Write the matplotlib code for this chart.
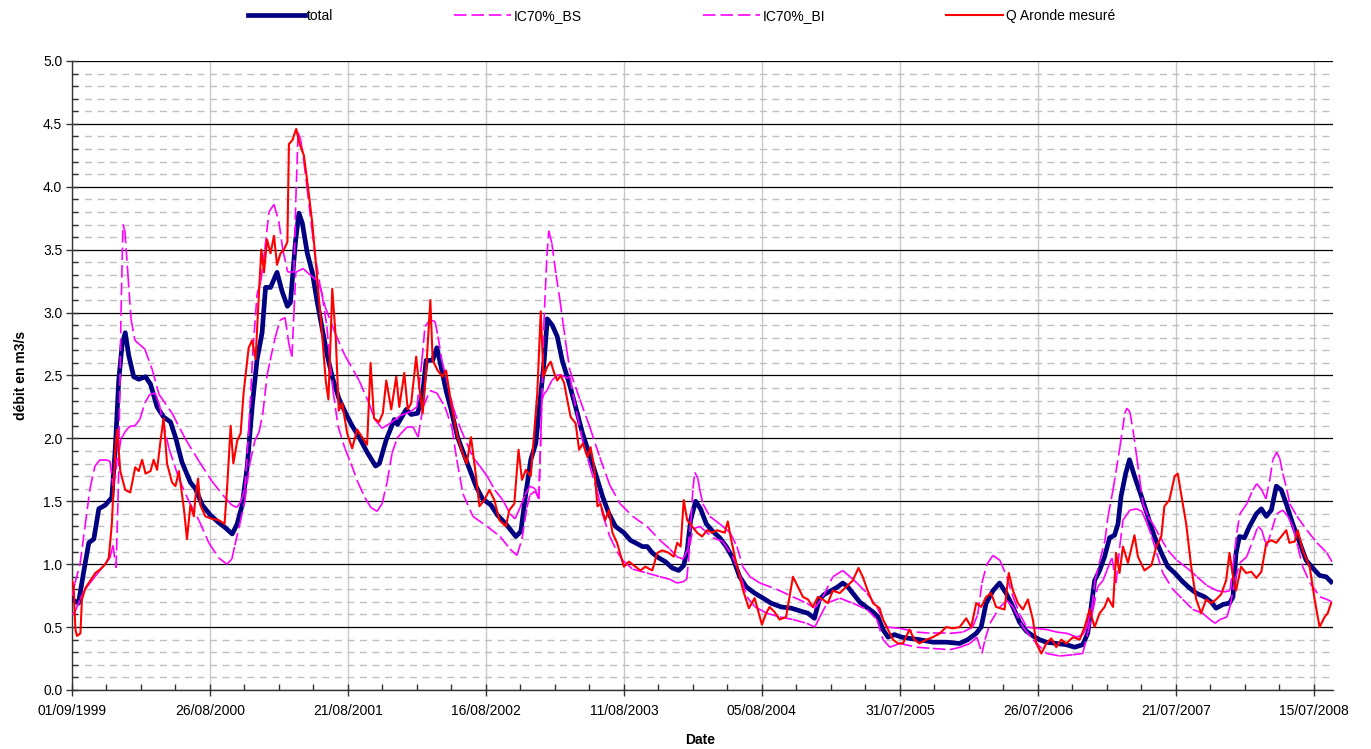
import numpy as np
import matplotlib
matplotlib.use('Agg')
import matplotlib.pyplot as plt
import matplotlib.dates as mdates
from matplotlib.collections import LineCollection
from matplotlib.lines import Line2D
from matplotlib.ticker import MultipleLocator, FixedLocator, FormatStrFormatter

plt.rcParams['font.family'] = ['Liberation Sans', 'DejaVu Sans']
plt.rcParams['lines.scale_dashes'] = False

start = np.datetime64('1999-09-01')

# jours depuis le 01/09/1999 -> debit (m3/s)
total_days = [0, 17, 30, 44, 57, 70, 87, 104, 113, 122,
              131, 139, 148, 161, 174, 192, 205, 222, 239, 257,
              270, 287, 309, 322, 340, 361, 383, 400, 418, 431,
              444, 457, 470, 483, 496, 505, 518, 535, 548, 562,
              570, 583, 592, 601, 614, 627, 640, 653, 666, 679,
              696, 714, 731, 749, 770, 792, 802, 820, 841, 849,
              872, 885, 902, 915, 924, 941, 952, 963, 976, 989,
              1006, 1028, 1054, 1071, 1093, 1110, 1132, 1158, 1171, 1184,
              1197, 1210, 1219, 1232, 1240, 1253, 1266, 1279, 1297, 1314,
              1332, 1349, 1366, 1384, 1401, 1418, 1440, 1457, 1470, 1488,
              1501, 1514, 1531, 1548, 1566, 1583, 1596, 1605, 1614, 1627,
              1640, 1655, 1672, 1690, 1707, 1724, 1742, 1759, 1781, 1803,
              1824, 1850, 1877, 1898, 1920, 1937, 1950, 1963, 1981, 1998,
              2011, 2024, 2037, 2055, 2072, 2090, 2103, 2116, 2129, 2146,
              2164, 2185, 2211, 2246, 2281, 2316, 2337, 2359, 2372, 2385,
              2403, 2420, 2437, 2455, 2472, 2489, 2507, 2524, 2542, 2568,
              2594, 2616, 2637, 2650, 2659, 2668, 2681, 2694, 2707, 2720,
              2729, 2737, 2749, 2759, 2772, 2790, 2807, 2824, 2842, 2859,
              2877, 2898, 2916, 2933, 2955, 2972, 2985, 3003, 3020, 3029,
              3037, 3046, 3059, 3072, 3090, 3103, 3116, 3129, 3142, 3155,
              3168, 3185, 3203, 3220, 3237, 3255, 3272, 3285]
total_q = [0.72, 0.69, 0.93, 1.17, 1.20, 1.44, 1.47, 1.53, 1.92, 2.46,
           2.75, 2.84, 2.66, 2.49, 2.47, 2.49, 2.43, 2.25, 2.17, 2.13,
           2.01, 1.81, 1.65, 1.60, 1.47, 1.39, 1.33, 1.29, 1.24, 1.32,
           1.47, 1.77, 2.25, 2.63, 2.84, 3.20, 3.20, 3.32, 3.17, 3.05,
           3.08, 3.56, 3.79, 3.71, 3.47, 3.32, 3.08, 2.87, 2.66, 2.49,
           2.32, 2.20, 2.10, 2.01, 1.89, 1.78, 1.80, 1.99, 2.15, 2.11,
           2.23, 2.19, 2.20, 2.36, 2.62, 2.62, 2.72, 2.57, 2.38, 2.23,
           2.01, 1.83, 1.62, 1.52, 1.47, 1.39, 1.32, 1.22, 1.26, 1.56,
           1.83, 1.96, 2.23, 2.62, 2.95, 2.90, 2.81, 2.62, 2.44, 2.25,
           2.04, 1.88, 1.72, 1.54, 1.40, 1.30, 1.25, 1.19, 1.17, 1.14,
           1.14, 1.09, 1.05, 1.02, 0.97, 0.95, 0.99, 1.11, 1.35, 1.50,
           1.44, 1.32, 1.26, 1.21, 1.14, 1.05, 0.90, 0.82, 0.77, 0.73,
           0.69, 0.66, 0.65, 0.63, 0.61, 0.57, 0.72, 0.76, 0.79, 0.82,
           0.85, 0.82, 0.77, 0.70, 0.66, 0.62, 0.58, 0.48, 0.42, 0.44,
           0.42, 0.41, 0.40, 0.38, 0.38, 0.37, 0.40, 0.45, 0.50, 0.69,
           0.79, 0.85, 0.77, 0.66, 0.54, 0.47, 0.43, 0.40, 0.38, 0.37,
           0.36, 0.34, 0.36, 0.45, 0.66, 0.87, 0.95, 1.06, 1.21, 1.23,
           1.32, 1.54, 1.72, 1.83, 1.70, 1.54, 1.38, 1.22, 1.09, 0.98,
           0.93, 0.86, 0.81, 0.77, 0.74, 0.70, 0.65, 0.68, 0.69, 0.74,
           1.09, 1.22, 1.21, 1.30, 1.40, 1.44, 1.38, 1.43, 1.62, 1.59,
           1.48, 1.32, 1.17, 1.03, 0.97, 0.91, 0.90, 0.86]

bs_days = [0, 8, 21, 34, 47, 60, 73, 86, 99, 107,
           115, 123, 128, 133, 138, 146, 154, 164, 175, 190,
           209, 227, 261, 295, 331, 365, 399, 417, 430, 441,
           451, 462, 472, 483, 493, 503, 514, 527, 540, 550,
           563, 579, 584, 590, 597, 605, 613, 626, 637, 647,
           660, 686, 712, 749, 775, 790, 809, 830, 856, 882,
           900, 913, 921, 934, 947, 955, 965, 978, 994, 1012,
           1030, 1046, 1064, 1083, 1103, 1124, 1143, 1156, 1169, 1182,
           1195, 1208, 1218, 1226, 1231, 1239, 1244, 1252, 1263, 1273,
           1281, 1291, 1299, 1325, 1351, 1377, 1403, 1430, 1463, 1500,
           1534, 1560, 1578, 1594, 1607, 1615, 1620, 1625, 1633, 1638,
           1646, 1664, 1690, 1717, 1735, 1750, 1769, 1795, 1839, 1881,
           1917, 1938, 1959, 1985, 2011, 2030, 2048, 2074, 2100, 2126,
           2160, 2204, 2246, 2290, 2324, 2350, 2363, 2374, 2387, 2403,
           2421, 2439, 2455, 2473, 2491, 2517, 2543, 2570, 2596, 2622,
           2637, 2648, 2661, 2669, 2682, 2695, 2703, 2716, 2734, 2747,
           2752, 2760, 2768, 2778, 2786, 2794, 2807, 2820, 2838, 2859,
           2883, 2909, 2935, 2961, 2987, 3008, 3021, 3029, 3039, 3047,
           3065, 3081, 3091, 3104, 3115, 3125, 3133, 3143, 3151, 3159,
           3170, 3177, 3196, 3222, 3248, 3274, 3287]
bs_q = [0.75, 0.85, 1.0, 1.3, 1.6, 1.78, 1.83, 1.83, 1.82, 1.62,
        1.75, 2.0, 3.0, 3.70, 3.65, 3.3, 2.95, 2.78, 2.75, 2.71,
        2.55, 2.35, 2.2, 2.0, 1.82, 1.66, 1.53, 1.47, 1.45, 1.5,
        1.6, 2.1, 2.7, 3.15, 3.25, 3.5, 3.8, 3.86, 3.72, 3.5,
        3.32, 3.32, 3.9, 4.43, 4.37, 4.2, 4.0, 3.66, 3.4, 3.22,
        3.05, 2.84, 2.66, 2.46, 2.28, 2.15, 2.08, 2.12, 2.18, 2.21,
        2.25, 2.62, 2.89, 2.94, 2.93, 2.81, 2.62, 2.46, 2.25, 2.09,
        1.96, 1.85, 1.78, 1.70, 1.59, 1.51, 1.40, 1.36, 1.45, 1.55,
        1.62, 1.60, 1.52, 2.3, 2.9, 3.45, 3.65, 3.55, 3.3, 3.1,
        2.92, 2.7, 2.54, 2.31, 2.09, 1.85, 1.63, 1.48, 1.38, 1.30,
        1.19, 1.12, 1.06, 1.04, 1.12, 1.35, 1.6, 1.73, 1.68, 1.59,
        1.48, 1.38, 1.32, 1.25, 1.14, 0.98, 0.90, 0.85, 0.80, 0.74,
        0.69, 0.65, 0.74, 0.90, 0.95, 0.90, 0.85, 0.77, 0.66, 0.50,
        0.49, 0.46, 0.45, 0.45, 0.46, 0.50, 0.60, 0.85, 1.00, 1.07,
        1.03, 0.90, 0.74, 0.60, 0.50, 0.49, 0.48, 0.46, 0.45, 0.42,
        0.44, 0.50, 0.66, 0.87, 1.03, 1.19, 1.38, 1.59, 1.93, 2.2,
        2.24, 2.21, 2.07, 1.85, 1.67, 1.48, 1.38, 1.32, 1.22, 1.11,
        1.03, 0.97, 0.90, 0.83, 0.79, 0.78, 0.79, 0.98, 1.25, 1.40,
        1.48, 1.59, 1.64, 1.59, 1.52, 1.67, 1.83, 1.89, 1.84, 1.72,
        1.59, 1.48, 1.38, 1.27, 1.17, 1.09, 1.02]

bi_days = [0, 8, 21, 34, 47, 60, 73, 86, 99, 107,
           115, 120, 123, 128, 133, 138, 146, 154, 164, 177,
           190, 203, 217, 227, 253, 279, 305, 331, 357, 383,
           404, 417, 425, 438, 451, 464, 477, 488, 498, 509,
           517, 530, 543, 556, 566, 574, 579, 584, 590, 603,
           621, 637, 647, 652, 665, 673, 681, 694, 712, 728,
           746, 764, 780, 796, 809, 822, 835, 848, 856, 874,
           890, 903, 916, 934, 952, 973, 991, 1004, 1020, 1046,
           1083, 1117, 1143, 1161, 1174, 1187, 1195, 1208, 1218, 1223,
           1226, 1231, 1239, 1252, 1265, 1278, 1291, 1299, 1317, 1333,
           1351, 1370, 1385, 1403, 1422, 1437, 1463, 1500, 1534, 1560,
           1578, 1594, 1604, 1612, 1620, 1638, 1672, 1698, 1724, 1748,
           1761, 1782, 1813, 1847, 1881, 1917, 1938, 1951, 1970, 2003,
           2037, 2074, 2100, 2116, 2134, 2160, 2204, 2246, 2290, 2317,
           2343, 2361, 2374, 2382, 2395, 2421, 2439, 2455, 2481, 2507,
           2543, 2577, 2611, 2637, 2650, 2664, 2676, 2690, 2700, 2713,
           2724, 2734, 2742, 2760, 2778, 2791, 2804, 2817, 2830, 2846,
           2872, 2898, 2924, 2950, 2969, 2982, 2995, 3013, 3021, 3034,
           3047, 3065, 3081, 3094, 3104, 3117, 3130, 3143, 3159, 3172,
           3185, 3198, 3211, 3230, 3256, 3274, 3287]
bi_q = [0.6, 0.62, 0.72, 0.8, 0.85, 0.9, 0.95, 1.0, 1.05, 1.15,
        0.97, 1.5, 1.9, 2.0, 2.02, 2.05, 2.08, 2.1, 2.1, 2.15,
        2.28, 2.35, 2.36, 2.28, 1.92, 1.68, 1.50, 1.35, 1.17, 1.05,
        1.00, 1.04, 1.15, 1.32, 1.50, 1.8, 1.98, 2.05, 2.2, 2.5,
        2.62, 2.8, 2.94, 2.96, 2.75, 2.65, 3.0, 3.32, 3.33, 3.35,
        3.3, 3.26, 3.2, 3.15, 2.89, 2.6, 2.38, 2.1, 1.92, 1.80,
        1.65, 1.53, 1.45, 1.42, 1.48, 1.65, 1.88, 2.0, 2.03, 2.09,
        2.09, 2.01, 2.25, 2.38, 2.36, 2.25, 2.09, 1.83, 1.56, 1.38,
        1.30, 1.22, 1.12, 1.07, 1.2, 1.45, 1.55, 1.58, 1.52, 2.0,
        2.3, 2.35, 2.38, 2.46, 2.50, 2.50, 2.48, 2.49, 2.2, 1.97,
        1.78, 1.58, 1.39, 1.22, 1.10, 1.03, 0.96, 0.93, 0.90, 0.88,
        0.85, 0.86, 0.88, 1.15, 1.28, 1.30, 1.21, 1.18, 1.06, 0.87,
        0.74, 0.66, 0.61, 0.58, 0.56, 0.53, 0.50, 0.58, 0.69, 0.73,
        0.69, 0.64, 0.56, 0.40, 0.34, 0.37, 0.34, 0.33, 0.32, 0.34,
        0.37, 0.42, 0.29, 0.40, 0.53, 0.66, 0.71, 0.66, 0.50, 0.40,
        0.29, 0.27, 0.28, 0.29, 0.45, 0.64, 0.82, 0.87, 0.95, 1.05,
        0.85, 1.15, 1.35, 1.43, 1.44, 1.42, 1.33, 1.22, 1.09, 0.93,
        0.80, 0.72, 0.64, 0.61, 0.56, 0.53, 0.56, 0.58, 0.66, 0.87,
        1.01, 1.06, 1.19, 1.30, 1.27, 1.14, 1.27, 1.40, 1.43, 1.38,
        1.30, 1.14, 0.98, 0.85, 0.74, 0.72, 0.70]

mes_days = [0, 4, 9, 13, 22, 26, 35, 48, 61, 74,
            87, 96, 104, 113, 118, 126, 139, 152, 165, 174,
            183, 192, 205, 213, 222, 231, 239, 248, 261, 270,
            279, 292, 300, 309, 318, 322, 329, 335, 348, 366,
            383, 398, 405, 414, 421, 431, 440, 448, 461, 470,
            479, 488, 494, 501, 509, 518, 527, 535, 544, 553,
            562, 566, 575, 585, 594, 605, 614, 627, 640, 653,
            662, 669, 675, 679, 688, 696, 705, 718, 731, 744,
            757, 770, 779, 788, 801, 811, 820, 833, 846, 854,
            867, 876, 885, 898, 906, 915, 924, 935, 941, 954,
            967, 976, 989, 1006, 1019, 1030, 1041, 1054, 1063, 1076,
            1089, 1102, 1115, 1132, 1141, 1154, 1165, 1174, 1184, 1197,
            1203, 1214, 1223, 1230, 1240, 1249, 1258, 1266, 1275, 1284,
            1292, 1301, 1314, 1323, 1333, 1345, 1353, 1362, 1371, 1379,
            1391, 1401, 1410, 1422, 1440, 1453, 1470, 1483, 1496, 1514,
            1527, 1540, 1557, 1570, 1579, 1588, 1596, 1605, 1618, 1631,
            1644, 1657, 1670, 1683, 1703, 1711, 1720, 1733, 1751, 1766,
            1781, 1800, 1811, 1820, 1833, 1846, 1863, 1872, 1881, 1894,
            1907, 1920, 1933, 1946, 1959, 1972, 1985, 2003, 2020, 2037,
            2052, 2063, 2076, 2090, 2107, 2116, 2129, 2142, 2155, 2168,
            2185, 2198, 2211, 2229, 2246, 2264, 2281, 2298, 2316, 2333,
            2346, 2359, 2372, 2385, 2398, 2411, 2433, 2444, 2455, 2468,
            2481, 2494, 2507, 2516, 2529, 2542, 2555, 2568, 2581, 2594,
            2612, 2629, 2642, 2655, 2668, 2681, 2694, 2703, 2716, 2724,
            2733, 2742, 2755, 2772, 2781, 2798, 2816, 2829, 2842, 2850,
            2863, 2877, 2885, 2898, 2907, 2920, 2933, 2946, 2959, 2972,
            2985, 2998, 3011, 3020, 3029, 3037, 3050, 3063, 3077, 3090,
            3103, 3116, 3129, 3142, 3155, 3168, 3176, 3190, 3198, 3211,
            3229, 3242, 3255, 3268, 3276, 3285]
mes_q = [0.87, 0.84, 0.48, 0.43, 0.45, 0.72, 0.81, 0.87, 0.93, 0.96,
         1.00, 1.05, 1.32, 1.92, 2.07, 1.74, 1.59, 1.57, 1.77, 1.74,
         1.83, 1.72, 1.74, 1.83, 1.75, 1.98, 2.16, 1.80, 1.65, 1.62,
         1.74, 1.44, 1.20, 1.47, 1.38, 1.53, 1.68, 1.47, 1.38, 1.36,
         1.35, 1.32, 1.62, 2.10, 1.80, 1.98, 2.04, 2.37, 2.72, 2.78,
         2.63, 3.17, 3.50, 3.32, 3.58, 3.47, 3.61, 3.38, 3.47, 3.50,
         3.56, 4.34, 4.37, 4.46, 4.34, 4.25, 4.04, 3.71, 3.26, 2.81,
         2.46, 2.31, 2.81, 3.19, 2.81, 2.22, 2.28, 2.04, 1.92, 2.07,
         2.01, 1.95, 2.60, 2.16, 2.13, 2.20, 2.46, 2.23, 2.49, 2.25,
         2.52, 2.23, 2.28, 2.65, 2.41, 2.20, 2.54, 3.10, 2.62, 2.54,
         2.49, 2.54, 2.28, 2.01, 1.88, 1.80, 2.01, 1.70, 1.46, 1.51,
         1.59, 1.51, 1.35, 1.30, 1.43, 1.48, 1.91, 1.67, 1.75, 1.70,
         1.93, 2.36, 3.01, 2.49, 2.57, 2.61, 2.52, 2.46, 2.50, 2.44,
         2.31, 2.17, 2.12, 1.91, 1.96, 1.85, 1.93, 1.78, 1.46, 1.48,
         1.35, 1.43, 1.25, 1.17, 0.98, 1.02, 0.98, 0.95, 0.98, 0.95,
         1.09, 1.11, 1.09, 1.06, 1.17, 1.14, 1.51, 1.35, 1.30, 1.25,
         1.22, 1.27, 1.25, 1.27, 1.25, 1.34, 1.19, 1.01, 0.79, 0.65,
         0.73, 0.52, 0.61, 0.66, 0.62, 0.56, 0.58, 0.74, 0.90, 0.82,
         0.74, 0.72, 0.66, 0.74, 0.72, 0.69, 0.79, 0.77, 0.82, 0.87,
         0.97, 0.90, 0.79, 0.69, 0.65, 0.56, 0.48, 0.40, 0.37, 0.37,
         0.48, 0.40, 0.37, 0.40, 0.42, 0.45, 0.50, 0.49, 0.50, 0.57,
         0.50, 0.69, 0.66, 0.74, 0.77, 0.66, 0.64, 0.93, 0.79, 0.69,
         0.64, 0.72, 0.56, 0.37, 0.29, 0.37, 0.41, 0.34, 0.40, 0.37,
         0.42, 0.40, 0.50, 0.64, 0.50, 0.61, 0.66, 0.73, 0.66, 1.09,
         0.93, 1.14, 1.01, 1.23, 1.06, 0.95, 0.99, 1.14, 1.22, 1.46,
         1.51, 1.70, 1.72, 1.48, 1.32, 0.98, 0.72, 0.61, 0.72, 0.69,
         0.72, 0.76, 0.87, 1.09, 0.90, 0.79, 0.98, 0.93, 0.94, 0.89,
         0.94, 1.17, 1.19, 1.17, 1.22, 1.27, 1.17, 1.18, 1.27, 1.11,
         0.98, 0.72, 0.50, 0.58, 0.61, 0.69]

labels = ['total', 'IC70%_BS', 'IC70%_BI', 'Q Aronde mesuré']


def to_num(days):
    return mdates.date2num(start + np.array(days).astype('timedelta64[D]'))


fig = plt.figure(figsize=(13.71, 7.49), dpi=100)
ax = fig.add_axes([0.0525, 0.0788, 0.9198, 0.8398])

ax.plot(to_num(total_days), total_q, color='#000080', lw=3.4, zorder=3,
        solid_joinstyle='round')

# Excel restarts the dash pattern on each segment: steep parts look dashed
dash = (0, (9, 3.6))
for d, q in [(bs_days, bs_q), (bi_days, bi_q)]:
    pts = np.column_stack([to_num(d), q])
    segs = np.stack([pts[:-1], pts[1:]], axis=1)
    lc = LineCollection(segs, colors='#FF00FF', linewidths=1.2,
                        linestyles=[dash], zorder=4)
    ax.add_collection(lc)

ax.plot(to_num(mes_days), mes_q, color='#FF0000', lw=1.5, zorder=5)

# axes
ax.set_xlim(to_num([0])[0], to_num([3290])[0])
ax.set_ylim(0, 5)
ax.xaxis.set_major_locator(FixedLocator(to_num(np.arange(0, 3241, 360))))
ax.xaxis.set_minor_locator(FixedLocator(to_num(np.arange(0, 3291, 90))))
ax.xaxis.set_major_formatter(mdates.DateFormatter('%d/%m/%Y'))
ax.yaxis.set_major_locator(MultipleLocator(0.5))
ax.yaxis.set_minor_locator(MultipleLocator(0.1))
ax.yaxis.set_major_formatter(FormatStrFormatter('%.1f'))

ax.set_axisbelow(True)
ax.grid(which='major', axis='y', color='#000000', lw=0.9)
ax.grid(which='minor', axis='y', color='#c0c0c0', lw=1.0, linestyle=(0, (5, 4)))
ax.grid(which='major', axis='x', color='#c8c8c8', lw=1.0)

for s in ['top', 'right']:
    ax.spines[s].set_visible(False)
for s in ['left', 'bottom']:
    ax.spines[s].set_color('#333333')
    ax.spines[s].set_linewidth(1.0)

ax.tick_params(axis='both', which='major', direction='inout', length=8,
               width=1, color='#333333', labelsize=10, labelcolor='black')
ax.tick_params(axis='x', which='major', pad=6)
ax.tick_params(axis='y', which='major', pad=3)
ax.tick_params(axis='both', which='minor', direction='in', length=4,
               width=1, color='#333333')

ax.set_ylabel('débit en m3/s', fontsize=10, fontweight='bold')
ax.yaxis.set_label_coords(-0.035, 0.5)
ax.set_xlabel('Date', fontsize=10, fontweight='bold')
ax.xaxis.set_label_coords(0.498, -0.068)

handles = [Line2D([], [], color='#000080', lw=3.4),
           Line2D([], [], color='#FF00FF', lw=1.2, ls=dash),
           Line2D([], [], color='#FF00FF', lw=1.2, ls=dash),
           Line2D([], [], color='#FF0000', lw=1.5)]
fig.legend(handles, labels, loc='center', bbox_to_anchor=(0.497, 0.979),
           ncol=4, frameon=False, fontsize=10, handlelength=4.1,
           handletextpad=0.2, columnspacing=8.7)

fig.savefig('out.png', dpi=100)
